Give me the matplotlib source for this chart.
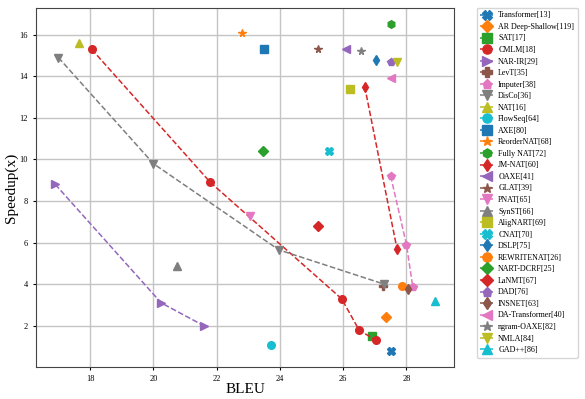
import matplotlib
matplotlib.use('Agg')
import matplotlib.pyplot as plt

plt.rcParams['font.family'] = ['Liberation Serif', 'DejaVu Serif']

# model names (legend order)
names = ['Transformer[13]', 'AR Deep-Shallow[119]', 'SAT[17]', 'CMLM[18]', 'NAR-IR[29]',
         'LevT[35]', 'Imputer[38]', 'DisCo[36]', 'NAT[16]', 'FlowSeq[64]',
         'AXE[80]', 'ReorderNAT[68]', 'Fully NAT[72]', 'JM-NAT[60]', 'OAXE[41]',
         'GLAT[39]', 'PNAT[65]', 'SynST[66]', 'AligNART[69]', 'CNAT[70]',
         'DSLP[75]', 'REWRITENAT[26]', 'NART-DCRF[25]', 'LaNMT[67]', 'DAD[76]',
         'INSNET[63]', 'DA-Transformer[40]', 'ngram-OAXE[82]', 'NMLA[84]', 'GAD++[86]']

# BLEU values
bleu = [
    [27.5], [27.35], [26.9], [18.05, 21.8, 25.95, 26.5, 27.03], [16.9, 20.25, 21.6],
    [27.27], [27.5, 28.0, 28.2], [17.0, 20.0, 23.97, 27.3], [17.65], [23.72],
    [23.5], [22.8], [27.5], [26.68, 27.7], [26.1],
    [25.2], [23.05], [20.75], [26.2], [25.55],
    [27.03], [27.85], [23.45], [25.2], [27.5],
    [28.06], [27.5], [26.55], [27.7], [28.9],
]

# speedup values
speedup = [
    [0.8], [2.4], [1.5], [15.3, 8.9, 3.3, 1.8, 1.3], [8.8, 3.1, 2.0],
    [3.9], [9.2, 5.9, 3.85], [14.9, 9.8, 5.65, 4.0], [15.6], [1.1],
    [15.3], [16.1], [16.5], [13.5, 5.7], [15.3],
    [15.3], [7.3], [4.9], [13.4], [10.4],
    [14.8], [3.9], [10.4], [6.8], [14.7],
    [3.75], [13.9], [15.2], [14.7], [3.2],
]

markers = ['X', 'D', 's', 'o', '>', 'P', 'p', 'v', '^', 'o',
           's', '*', 'h', 'd', '<', '*', 'v', '^', 's', 'X',
           'd', 'o', 'D', 'D', 'p', 'd', '<', '*', 'v', '^']

colors = plt.rcParams['axes.prop_cycle'].by_key()['color']

fig = plt.figure(figsize=(5.85, 3.99), dpi=100)
ax = fig.add_axes([0.062, 0.08, 0.714, 0.9])

for i, name in enumerate(names):
    ax.plot(bleu[i], speedup[i], linestyle='--', marker=markers[i],
            color=colors[i % 10], markersize=5.5, linewidth=1.1, label=name)

ax.grid(True, color='#c4c4c4', linewidth=1)
ax.set_axisbelow(True)
ax.tick_params(labelsize=6, length=2.5, width=0.8)
ax.set_xlabel('BLEU', fontsize=11, labelpad=0)
ax.set_ylabel('Speedup(x)', fontsize=11, labelpad=1)
for s in ax.spines.values():
    s.set_color('#444444')

ax.legend(loc='upper left', bbox_to_anchor=(1.045, 1.012), fontsize=5.8,
          markerscale=1.2, handlelength=1.6, labelspacing=0.44,
          borderpad=0.45, handletextpad=0.6)

fig.savefig('out.png', dpi=100)
